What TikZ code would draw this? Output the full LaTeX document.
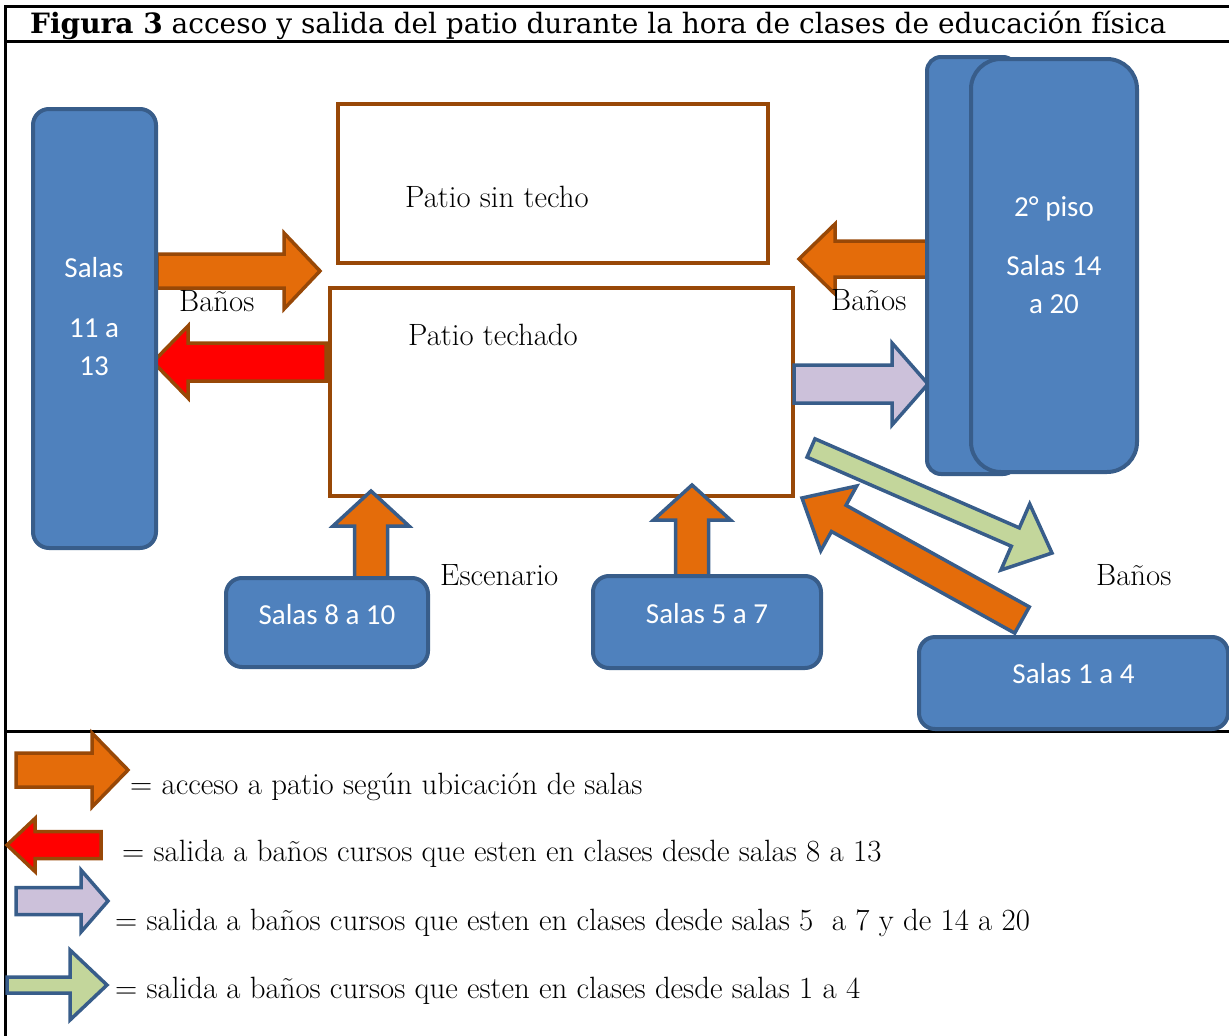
\documentclass[tikz,border=0pt]{standalone}
\usepackage{fontspec}
\newfontfamily\calfont{Carlito}
\newfontfamily\ttlfont{DejaVu Serif}
\usetikzlibrary{calc}
\definecolor{boxblue}{HTML}{4F81BD}
\definecolor{boxline}{HTML}{385D8A}
\definecolor{accorange}{HTML}{E46C0A}
\definecolor{accbrown}{HTML}{984807}
\definecolor{exitlilac}{HTML}{CCC1DA}
\definecolor{exitgreen}{HTML}{C3D69B}
% block arrow: style, tail, tip, shaft half width, head half width, head length
\newcommand{\blockarr}[6]{%
  \coordinate (hb) at ($(#3)!#6!(#2)$);
  \draw[#1] ($(#2)!#4!90:(#3)$) -- ($(hb)!#4!90:(#3)$) -- ($(hb)!#5!90:(#3)$) -- (#3)
    -- ($(hb)!#5!-90:(#3)$) -- ($(hb)!#4!-90:(#3)$) -- ($(#2)!#4!-90:(#3)$) -- cycle;}
\begin{document}
\begin{tikzpicture}[x=1pt, y=-1pt,
    room/.style={draw=boxline, fill=boxblue, line width=4pt, rounded corners=16pt, text=white,
      font=\calfont\fontsize{29}{38}\selectfont, inner sep=0pt},
    roomtxt/.style={text=white, font=\calfont\fontsize{29}{38}\selectfont, inner sep=0pt},
    patio/.style={draw=accbrown, line width=3.5pt, fill=white, inner sep=0pt},
    lbl/.style={font=\fontsize{30.8}{36}\selectfont, anchor=base west, inner sep=0pt},
    inarr/.style={fill=accorange, draw=accbrown, line width=3.5pt},
    inblue/.style={fill=accorange, draw=boxline, line width=3.5pt},
    redarr/.style={fill=red, draw=accbrown, line width=3.5pt},
    lilarr/.style={fill=exitlilac, draw=boxline, line width=3.5pt},
    grnarr/.style={fill=exitgreen, draw=boxline, line width=3.5pt},
    frame/.style={line width=3pt}]
  \useasboundingbox (0,0) rectangle (1229,1036);
  \draw[frame] (5,1036) -- (5,6) -- (1229,6);
  \draw[frame] (5,41) -- (1229,41);
  \draw[frame] (5,731) -- (1229,731);
  \node (tt)[anchor=base west, inner sep=0pt, font=\ttlfont\fontsize{28}{32}\selectfont] at (30,34)
    {\textbf{Figura 3} acceso y salida del patio durante la hora de clases de educación física};

  \node (pst)[patio, minimum width=430pt, minimum height=159pt] at (553,183.5) {};
  \node (ptc)[patio, minimum width=463pt, minimum height=208pt] at (561.5,392) {};

  \coordinate (a1t) at (157,271);  \coordinate (a1h) at (320,271);
  \coordinate (a2t) at (326,362);  \coordinate (a2h) at (153,362);
  \coordinate (a3t) at (927,259);  \coordinate (a3h) at (799,259);
  \coordinate (a4t) at (794,384);  \coordinate (a4h) at (928,384);
  \coordinate (a5t) at (371,578);  \coordinate (a5h) at (371,491);
  \coordinate (a6t) at (692,576);  \coordinate (a6h) at (692,485);
  \coordinate (a7t) at (811,448);  \coordinate (a7h) at (1052,553);
  \coordinate (a8t) at (1022,620); \coordinate (a8h) at (802,498);
  \blockarr{inarr}{a1t}{a1h}{17pt}{38pt}{36pt}
  \blockarr{redarr}{a2t}{a2h}{19pt}{36pt}{35pt}
  \blockarr{inarr}{a3t}{a3h}{18pt}{35pt}{36pt}
  \blockarr{lilarr}{a4t}{a4h}{19pt}{41pt}{36pt}
  \blockarr{inblue}{a5t}{a5h}{16.5pt}{38pt}{35pt}
  \blockarr{inblue}{a6t}{a6h}{16.5pt}{38.5pt}{35pt}
  \blockarr{grnarr}{a7t}{a7h}{10pt}{36pt}{40pt}
  \blockarr{inblue}{a8t}{a8h}{15pt}{37pt}{42pt}

  \node (s11)[room, minimum width=123pt, minimum height=439pt] at (94.5,328.5) {};
  \node (s11t)[roomtxt, align=center] at (94,317) {Salas\\[22pt]11 a\\13};
  \node (s14b)[room, rounded corners=14pt, minimum width=90pt, minimum height=417pt] at (972,265.5) {};
  \node (s14)[room, rounded corners=30pt, minimum width=166pt, minimum height=413pt] at (1054,265.5) {};
  \node (s14t)[roomtxt, align=center] at (1054,255) {2° piso\\[21pt]Salas 14\\a 20};
  \node (s8)[room, minimum width=202pt, minimum height=89pt, text depth=17pt] at (327,622.5) {Salas 8 a 10};
  \node (s5)[room, minimum width=228pt, minimum height=92pt, text depth=18pt] at (707,622) {Salas 5 a 7};
  \node (s1)[room, minimum width=309pt, minimum height=92pt, text depth=20pt] at (1073.5,683) {Salas 1 a 4};

  \node (pstt)[lbl] at (405,207) {Patio sin techo};
  \node (ptct)[lbl] at (408,345) {Patio techado};
  \node (b1)[lbl] at (179,311) {Baños};
  \node (b2)[lbl] at (831,310) {Baños};
  \node (esc)[lbl] at (440,585) {Escenario};
  \node (b3)[lbl] at (1096,585) {Baños};

  % leyenda
  \coordinate (l1t) at (16,770);  \coordinate (l1h) at (128,770);
  \coordinate (l2t) at (101,845); \coordinate (l2h) at (7,845);
  \coordinate (l3t) at (16,901);  \coordinate (l3h) at (108,901);
  \coordinate (l4t) at (7,985);   \coordinate (l4h) at (107,985);
  \blockarr{inarr}{l1t}{l1h}{17pt}{37pt}{36pt}
  \blockarr{redarr}{l2t}{l2h}{13.5pt}{26.5pt}{28pt}
  \blockarr{lilarr}{l3t}{l3h}{13.5pt}{31pt}{27pt}
  \blockarr{grnarr}{l4t}{l4h}{8pt}{35pt}{37pt}
  \node (l1)[lbl] at (130,794) {= acceso a patio según ubicación de salas};
  \node (l2)[lbl] at (122,861) {= salida a baños cursos que esten en clases desde salas 8 a 13};
  \node (l3)[lbl] at (115,930) {= salida a baños cursos que esten en clases desde salas 5\ \ a 7 y de 14 a 20};
  \node (l4)[lbl] at (115,998) {= salida a baños cursos que esten en clases desde salas 1 a 4};
\end{tikzpicture}
\end{document}
